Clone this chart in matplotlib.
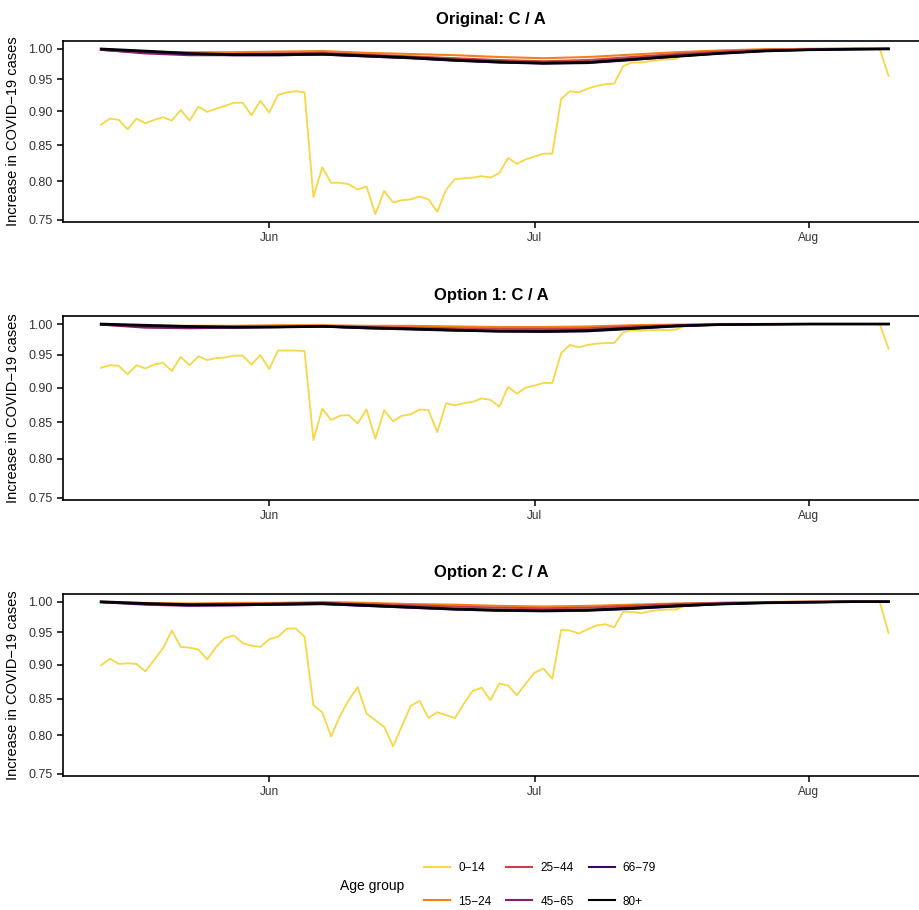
import numpy as np
import pandas as pd
import matplotlib
matplotlib.use("Agg")
import matplotlib.pyplot as plt
import matplotlib.dates as mdates
from matplotlib.ticker import FixedLocator, FormatStrFormatter, NullLocator
from matplotlib.lines import Line2D

plt.rcParams['font.family'] = ['Liberation Sans', 'DejaVu Sans']

# daily dates of the series
dates = pd.date_range('2020-05-13', '2020-08-10', freq='D')

# day offsets at which the smooth (older) age groups are read
smooth_days = [0, 5, 10, 15, 20, 25, 30, 35, 40, 45, 50, 55, 60, 65, 70, 75, 80, 85, 89]

age_groups = ['0\u221214', '15\u221224', '25\u221244', '45\u221265', '66\u221279', '80+']
panel_titles = ['Original: C / A', 'Option 1: C / A', 'Option 2: C / A']

# 0-14 series (daily)
young_original = [
    0.880, 0.889, 0.887, 0.873, 0.889, 0.882, 0.887, 0.891, 0.886, 0.902, 0.886, 0.907,
    0.899, 0.904, 0.908, 0.913, 0.913, 0.894, 0.916, 0.898, 0.925, 0.929, 0.931, 0.929,
    0.779, 0.819, 0.798, 0.798, 0.796, 0.789, 0.793, 0.757, 0.787, 0.772, 0.775, 0.776,
    0.780, 0.776, 0.760, 0.789, 0.803,
    0.804, 0.805, 0.807, 0.805, 0.811, 0.832, 0.824, 0.830, 0.834, 0.838, 0.838, 0.919,
    0.931, 0.929, 0.935, 0.939, 0.942, 0.943, 0.971, 0.977, 0.977, 0.979, 0.981, 0.982, 0.983,
    0.993, 0.994, 0.995, 0.996, 0.996, 0.997, 0.997, 0.998, 0.998, 0.999, 0.999, 0.999,
    0.999, 1.000, 1.000, 1.000, 1.000, 1.000, 1.000, 1.000, 1.000, 1.000, 1.000, 0.955]
young_option1 = [
    0.930, 0.934, 0.933, 0.920, 0.934, 0.929, 0.935, 0.938, 0.925, 0.947, 0.934, 0.948,
    0.942, 0.945, 0.946, 0.949, 0.949, 0.935, 0.950, 0.928, 0.957, 0.957, 0.957, 0.956,
    0.825, 0.869, 0.853, 0.859, 0.860, 0.848, 0.868, 0.827, 0.867, 0.851, 0.859, 0.861,
    0.868, 0.867, 0.836, 0.877, 0.874,
    0.877, 0.879, 0.884, 0.882, 0.872, 0.901, 0.891, 0.900, 0.903, 0.907, 0.907, 0.953,
    0.966, 0.962, 0.966, 0.968, 0.969, 0.969, 0.986, 0.990, 0.989, 0.990, 0.990, 0.990, 0.991,
    0.998, 0.999, 0.999, 0.999, 1.000, 1.000, 1.000, 1.000, 1.000, 1.000, 1.000, 1.000,
    1.000, 1.000, 1.000, 1.000, 1.000, 1.000, 1.000, 1.000, 1.000, 1.000, 1.000, 0.960]
young_option2 = [
    0.899, 0.909, 0.901, 0.902, 0.901, 0.890, 0.907, 0.925, 0.953, 0.927, 0.926, 0.923,
    0.908, 0.927, 0.941, 0.945, 0.933, 0.929, 0.927, 0.939, 0.943, 0.956, 0.956, 0.943,
    0.841, 0.831, 0.798, 0.826, 0.848, 0.867, 0.829, 0.820, 0.811, 0.785, 0.812, 0.840,
    0.847, 0.823, 0.831, 0.827, 0.823,
    0.843, 0.861, 0.866, 0.848, 0.872, 0.869, 0.855, 0.872, 0.888, 0.894, 0.879, 0.954,
    0.953, 0.948, 0.955, 0.961, 0.963, 0.958, 0.983, 0.983, 0.981, 0.984, 0.986, 0.987, 0.987,
    0.994, 0.995, 0.996, 0.997, 0.997, 0.998, 0.998, 0.999, 0.999, 0.999, 1.000, 1.000,
    1.000, 1.000, 1.000, 1.000, 1.000, 1.000, 1.000, 1.000, 1.000, 1.000, 1.000, 0.949]

# older groups, read at smooth_days
orig_15_24 = [0.998, 0.995, 0.994, 0.994, 0.995, 0.996, 0.993, 0.991, 0.989, 0.986,
              0.984, 0.986, 0.990, 0.994, 0.997, 0.999, 0.9995, 1.000, 1.000]
orig_25_44 = [0.998, 0.993, 0.991, 0.991, 0.992, 0.993, 0.990, 0.987, 0.984, 0.981,
              0.979, 0.981, 0.986, 0.991, 0.995, 0.998, 0.999, 1.000, 1.000]
orig_45_65 = [0.998, 0.992, 0.989, 0.989, 0.989, 0.990, 0.987, 0.984, 0.980, 0.977,
              0.976, 0.978, 0.983, 0.989, 0.993, 0.997, 0.998, 0.999, 0.9995]
orig_66_79 = [0.999, 0.995, 0.991, 0.989, 0.989, 0.990, 0.987, 0.984, 0.980, 0.977,
              0.975, 0.976, 0.981, 0.987, 0.992, 0.996, 0.998, 0.999, 0.9995]
orig_80 = [0.9995, 0.996, 0.992, 0.990, 0.990, 0.991, 0.988, 0.985, 0.981, 0.978,
           0.976, 0.977, 0.982, 0.987, 0.992, 0.996, 0.998, 0.999, 0.9995]

opt1_15_24 = [0.999, 0.997, 0.997, 0.997, 0.998, 0.998, 0.997, 0.997, 0.996, 0.995,
              0.995, 0.996, 0.998, 0.999, 1.000, 1.000, 1.000, 1.000, 1.000]
opt1_25_44 = [0.999, 0.996, 0.995, 0.995, 0.996, 0.997, 0.995, 0.994, 0.993, 0.992,
              0.992, 0.993, 0.996, 0.998, 0.9995, 1.000, 1.000, 1.000, 1.000]
opt1_45_65 = [0.999, 0.994, 0.993, 0.994, 0.995, 0.996, 0.993, 0.992, 0.990, 0.989,
              0.989, 0.990, 0.994, 0.997, 0.999, 0.9995, 1.000, 1.000, 1.000]
opt1_66_79 = [0.9995, 0.997, 0.995, 0.994, 0.995, 0.996, 0.993, 0.991, 0.989, 0.988,
              0.987, 0.988, 0.992, 0.996, 0.999, 0.9995, 1.000, 1.000, 1.000]
opt1_80 = [1.000, 0.998, 0.996, 0.995, 0.995, 0.996, 0.994, 0.992, 0.990, 0.988,
           0.988, 0.989, 0.993, 0.997, 0.999, 0.9995, 1.000, 1.000, 1.000]

opt2_15_24 = [0.999, 0.998, 0.997, 0.998, 0.998, 0.9995, 0.998, 0.996, 0.995, 0.993,
              0.992, 0.993, 0.995, 0.997, 0.998, 0.999, 1.000, 1.000, 1.000]
opt2_25_44 = [0.999, 0.996, 0.995, 0.996, 0.997, 0.998, 0.996, 0.994, 0.992, 0.990,
              0.989, 0.990, 0.993, 0.996, 0.998, 0.999, 1.000, 1.000, 1.000]
opt2_45_65 = [0.999, 0.995, 0.993, 0.994, 0.995, 0.996, 0.993, 0.990, 0.987, 0.985,
              0.985, 0.986, 0.990, 0.994, 0.997, 0.998, 0.999, 1.000, 1.000]
opt2_66_79 = [0.9995, 0.996, 0.994, 0.994, 0.995, 0.996, 0.993, 0.990, 0.987, 0.985,
              0.984, 0.985, 0.988, 0.992, 0.996, 0.998, 0.999, 1.000, 1.000]
opt2_80 = [1.000, 0.997, 0.995, 0.995, 0.996, 0.997, 0.994, 0.991, 0.988, 0.986,
           0.985, 0.986, 0.989, 0.993, 0.996, 0.998, 0.999, 1.000, 1.000]

panels = [
    (young_original, [orig_15_24, orig_25_44, orig_45_65, orig_66_79, orig_80]),
    (young_option1, [opt1_15_24, opt1_25_44, opt1_45_65, opt1_66_79, opt1_80]),
    (young_option2, [opt2_15_24, opt2_25_44, opt2_45_65, opt2_66_79, opt2_80]),
]

cmap = plt.get_cmap('inferno')
colors = [cmap(v) for v in [0.9, 0.72, 0.54, 0.36, 0.18, 0.0]]

smooth_dates = dates[0] + pd.to_timedelta(smooth_days, unit='D')

fig = plt.figure(figsize=(9.2, 9.1), dpi=100)
axes_boxes = [(0.0685, 0.756, 0.930, 0.199),
              (0.0685, 0.4505, 0.930, 0.202),
              (0.0685, 0.1473, 0.930, 0.200)]

xmin = dates[0] - pd.Timedelta(days=4.3)
xmax = dates[-1] + pd.Timedelta(days=3.4)

for box, title, (young, older) in zip(axes_boxes, panel_titles, panels):
    ax = fig.add_axes(box)
    ax.plot(dates, young, color=colors[0], lw=1.3)
    for vals, c in zip(older, colors[1:]):
        ax.plot(smooth_dates, vals, color=c, lw=1.5 if c != colors[-1] else 1.9)
    ax.set_yscale('log')
    ax.set_ylim(0.747, 1.013)
    ax.yaxis.set_major_locator(FixedLocator([0.75, 0.80, 0.85, 0.90, 0.95, 1.00]))
    ax.yaxis.set_major_formatter(FormatStrFormatter('%.2f'))
    ax.yaxis.set_minor_locator(NullLocator())
    ax.set_xlim(xmin, xmax)
    ax.xaxis.set_major_locator(mdates.MonthLocator(bymonth=[6, 7, 8]))
    ax.xaxis.set_major_formatter(mdates.DateFormatter('%b'))
    ax.xaxis.set_minor_locator(NullLocator())
    ax.tick_params(axis='both', labelcolor='#333333', width=1.1,
                   length=4, direction='out')
    ax.tick_params(axis='y', labelsize=9)
    ax.tick_params(axis='x', labelsize=8.5)
    for s in ['left', 'bottom', 'top']:
        ax.spines[s].set_linewidth(1.2)
    ax.spines['right'].set_visible(False)
    ax.set_ylabel('Increase in COVID\u221219 cases', fontsize=10.5)
    ax.yaxis.set_label_coords(-0.050, 0.5)
    ax.set_title(title, fontsize=12, fontweight='bold', pad=12)

handles = [Line2D([], [], color=c, lw=1.5) for c in colors]
fig.legend(handles, age_groups, ncol=3, loc='center',
           bbox_to_anchor=(540 / 920, 1 - 885 / 910), frameon=False, fontsize=8.5,
           handlelength=2.2, handletextpad=0.7, columnspacing=1.25, labelspacing=1.8)
fig.text(340 / 920, 1 - 886 / 910, 'Age group', fontsize=10, va='center', ha='left')

fig.savefig('out.png', dpi=100)
